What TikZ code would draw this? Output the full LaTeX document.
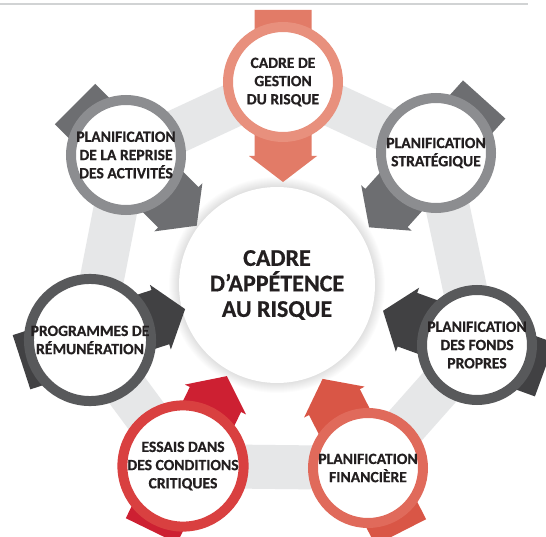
\documentclass[tikz,border=0pt]{standalone}
\usepackage{fontspec}
\newfontfamily\lab{Carlito}[BoldFeatures={FakeBold=0.6}]
\definecolor{txt}{HTML}{231F20}
\definecolor{bandc}{HTML}{E6E7E8}
\definecolor{topline}{HTML}{D1D3D4}
\definecolor{salR}{HTML}{E8907D}\definecolor{salA}{HTML}{E27B67}
\definecolor{gryR}{HTML}{8C8D90}\definecolor{gryA}{HTML}{6D6E71}
\definecolor{dkR}{HTML}{58595B}\definecolor{dkA}{HTML}{414143}
\definecolor{redR}{HTML}{D94040}\definecolor{redA}{HTML}{CD2032}
\definecolor{corR}{HTML}{E06A5B}\definecolor{corA}{HTML}{D95646}
\newcommand\blockarr[3]{%
  \fill[#3, shift={(#1)}, rotate=#2] (-72,-28.5) -- (74,-28.5) -- (74,-34) -- (100,0) -- (74,34) -- (74,28.5) -- (-72,28.5) -- cycle;}
\begin{document}
\begin{tikzpicture}[x=1pt,y=-1pt,
  ringnode/.style={circle, minimum size=110pt, line width=10pt, fill=white, inner sep=0pt, align=center, text=txt,
     font=\lab\bfseries\fontsize{15.6}{18.2}\selectfont},
  centernode/.style={circle, minimum size=196pt, fill=white, inner sep=0pt, align=center, text=txt,
     font=\lab\bfseries\fontsize{24}{25.5}\selectfont},
  band/.style={draw=bandc, line width=44pt, line join=round}]
\useasboundingbox (0,0) rectangle (546,537);
\fill[white] (0,0) rectangle (546,537);
\draw[topline, line width=2pt] (0,4) -- (528,4);
% positions
\coordinate (cc) at (277,285);
\coordinate (ctop) at (283,82);
\coordinate (cstr) at (436,153);
\coordinate (cfon) at (477,345);
\coordinate (cfin) at (368,468);
\coordinate (cess) at (183,466);
\coordinate (crem) at (90,340);
\coordinate (crep) at (126,155);
% band
\draw[band] (ctop) -- (cstr) -- (cfon) -- (cfin) -- (cess) -- (crem) -- (crep) -- cycle;
% center shadow
\foreach \i in {1,...,12} {\fill[black, opacity=0.013, shift={(-3,4)}] (cc) circle (96+\i);}
\node[centernode] (center) at (cc) {CADRE\\D’APPÉTENCE\\AU RISQUE};
% arrows
\blockarr{ctop}{-90}{salA}
\blockarr{cstr}{-132}{gryA}
\blockarr{cfon}{160}{dkA}
\blockarr{cfin}{117}{corA}
\blockarr{cess}{64}{redA}
\blockarr{crem}{18}{dkA}
\blockarr{crep}{-45}{gryA}
% circles
\node[ringnode, draw=salR] (top) at (ctop) {CADRE DE\\GESTION\\DU RISQUE};
\node[ringnode, draw=gryR] (str) at (cstr) {PLANIFICATION\\STRATÉGIQUE};
\node[ringnode, draw=dkR] (fon) at (cfon) {PLANIFICATION\\DES FONDS\\PROPRES};
\node[ringnode, draw=corR] (fin) at (cfin) {PLANIFICATION\\FINANCIÈRE};
\node[ringnode, draw=redR] (ess) at (cess) {ESSAIS DANS\\DES CONDITIONS\\CRITIQUES};
\node[ringnode, draw=dkR] (rem) at (crem) {PROGRAMMES DE\\RÉMUNÉRATION};
\node[ringnode, draw=gryR] (rep) at (crep) {PLANIFICATION\\DE LA REPRISE\\DES ACTIVITÉS};
\end{tikzpicture}
\end{document}
